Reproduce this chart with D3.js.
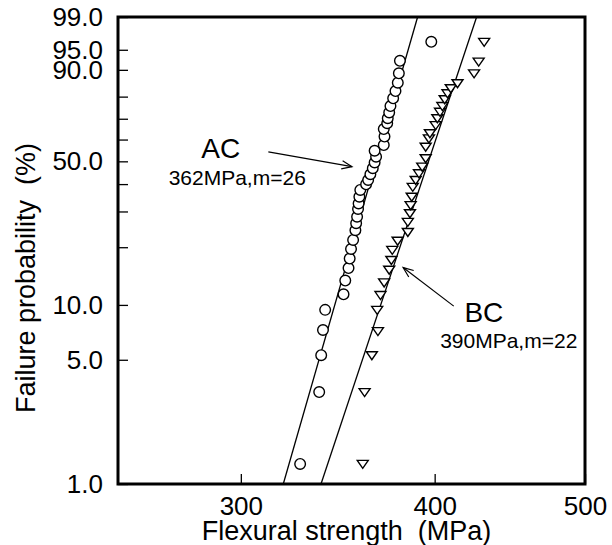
<!DOCTYPE html>
<html>
<head>
<meta charset="utf-8">
<script src="https://cdn.jsdelivr.net/npm/d3@7"></script>
<style>
  body { margin: 0; background: #fff; }
  svg text { font-family: "Liberation Sans", Arial, Helvetica, sans-serif; fill: #000; }
</style>
</head>
<body>
<svg id="chart"></svg>
<script>
const WIDTH = 612;
const HEIGHT = 545;
const MARGIN = { left: 118, top: 17, right: 27, bottom: 61 };

// AC specimens (open circles) - strength in MPa, failure probability in %
const acStrength = [327.6, 337.0, 338.0, 338.9, 340.0, 349.4, 350.3, 352.0, 352.6, 353.3,
    354.4, 355.6, 356.0, 356.5, 357.0, 357.3, 357.7, 358.2, 361.3, 362.4,
    363.6, 364.9, 365.9, 366.7, 365.9, 370.9, 371.3, 370.9, 372.8, 373.1,
    373.9, 374.6, 376.1, 377.4, 378.7, 379.3, 379.9, 398.0];
const acProb = [1.3, 3.3, 5.3, 7.3, 9.4, 11.4, 13.5, 15.7, 17.6, 19.7,
    21.9, 24.5, 26.5, 28.5, 31.0, 32.9, 35.3, 37.9, 40.1, 41.9,
    44.3, 46.9, 49.5, 52.1, 54.9, 57.6, 61.7, 65.3, 68.1, 70.5,
    73.2, 76.1, 79.5, 82.5, 85.7, 88.9, 92.5, 96.4];

// BC specimens (open down triangles)
const bcStrength = [359.5, 360.5, 364.4, 367.7, 367.3, 369.1, 371.1, 373.9, 375.1, 375.6,
    378.6, 384.4, 384.4, 385.6, 386.0, 386.6, 387.2, 388.9, 390.8, 392.7,
    394.7, 394.7, 396.6, 397.2, 400.6, 401.6, 403.2, 404.6, 406.0, 407.7,
    409.7, 413.8, 424.1, 427.0, 430.5];
const bcProb = [1.3, 3.3, 5.3, 7.2, 9.4, 11.3, 13.2, 15.4, 17.3, 19.5,
    21.7, 24.0, 26.9, 29.6, 32.3, 35.3, 39.1, 41.9, 44.7, 47.6,
    51.4, 56.8, 60.8, 63.3, 67.2, 70.5, 73.5, 76.1, 79.1, 81.6,
    83.6, 85.5, 88.9, 92.3, 96.4];

// fitted weibull lines, end points [strength, prob]
const acFit = [[319.5, 1], [390.0, 99]];
const bcFit = [[337.9, 1], [425.7, 99]];

// axis ticks
const yTicks = [1, 5, 10, 50, 90, 95, 99];
const yMinorTicks = [20, 30, 40, 60, 70, 80];
const xTicks = [300, 400, 500];

// annotations (anchor in data units)
const labels = [
    { text: "AC", s: 291.2, p: 51.5, size: 28 },
    { text: "362MPa,m=26", s: 298.4, p: 39.8, size: 21 },
    { text: "BC", s: 430.3, p: 8.1, size: 28 },
    { text: "390MPa,m=22", s: 446.5, p: 5.8, size: 21 }
];
const arrows = [
    { from: [312.5, 54.4], to: [353.8, 47.6] },
    { from: [411.5, 9.85], to: [381.7, 15.8] }
];

const innerW = WIDTH - MARGIN.left - MARGIN.right;
const innerH = HEIGHT - MARGIN.top - MARGIN.bottom;

const svg = d3.select("#chart")
    .attr("width", WIDTH)
    .attr("height", HEIGHT);

const g = svg.append("g")
    .attr("transform", `translate(${MARGIN.left},${MARGIN.top})`);

// weibull probability paper: ln(ln(1/(1-F)))
const weibit = p => Math.log(-Math.log(1 - p / 100));
const unWeibit = v => 100 * (1 - Math.exp(-Math.exp(v)));

const x = d3.scaleLog().domain([250, 500]).range([0, innerW]);
const yLin = d3.scaleLinear().domain([weibit(1), weibit(99)]).range([innerH, 0]);
const y = p => yLin(weibit(p));

// y axis, ticks pointing inside
const yAxis = d3.axisLeft(yLin)
    .tickValues(yTicks.map(weibit))
    .tickFormat(v => d3.format(".1f")(unWeibit(v)))
    .tickSize(-10)
    .tickPadding(15);

const yg = g.append("g").call(yAxis);
yg.select(".domain").remove();
yg.selectAll("text").attr("font-size", 26).attr("font-family", null);
yg.selectAll("line").attr("stroke-width", 1.3);

g.append("g").selectAll("line")
    .data(yMinorTicks)
    .enter()
    .append("line")
    .attr("x1", 0)
    .attr("x2", 10)
    .attr("y1", d => y(d))
    .attr("y2", d => y(d))
    .attr("stroke", "#000")
    .attr("stroke-width", 1.3);

// x axis
const xAxis = d3.axisBottom(x)
    .tickValues(xTicks)
    .tickFormat(d3.format("d"))
    .tickSize(-10)
    .tickPadding(13);

const xg = g.append("g")
    .attr("transform", `translate(0,${innerH})`)
    .call(xAxis);
xg.select(".domain").remove();
xg.selectAll("text").attr("font-size", 26).attr("font-family", null);
xg.selectAll("line").attr("stroke-width", 1.3);

// frame
g.append("rect")
    .attr("width", innerW)
    .attr("height", innerH)
    .attr("fill", "none")
    .attr("stroke", "#000")
    .attr("stroke-width", 3);

// axis titles
svg.append("text")
    .attr("x", MARGIN.left + innerW / 2 - 5)
    .attr("y", 540)
    .attr("text-anchor", "middle")
    .attr("font-size", 27)
    .attr("xml:space", "preserve")
    .text("Flexural strength  (MPa)");

svg.append("text")
    .attr("transform", `translate(35,${MARGIN.top + 261}) rotate(-90)`)
    .attr("text-anchor", "middle")
    .attr("font-size", 27)
    .attr("xml:space", "preserve")
    .text("Failure probability  (%)");

// fit lines
const line = d3.line().x(d => x(d[0])).y(d => y(d[1]));
[acFit, bcFit].forEach(fit => {
    g.append("path")
        .attr("d", line(fit))
        .attr("fill", "none")
        .attr("stroke", "#000")
        .attr("stroke-width", 1.3);
});

// AC circles
const acData = acStrength.map((s, i) => ({ s: s, p: acProb[i] }));
g.selectAll(".ac")
    .data(acData)
    .enter()
    .append("circle")
    .attr("class", "ac")
    .attr("cx", d => x(d.s))
    .attr("cy", d => y(d.p))
    .attr("r", 5.3)
    .attr("fill", "#fff")
    .attr("stroke", "#000")
    .attr("stroke-width", 1.4);

// BC triangles
const tri = "M-5.5,-3.5L5.5,-3.5L0,4.5Z";
const bcData = bcStrength.map((s, i) => ({ s: s, p: bcProb[i] }));
g.selectAll(".bc")
    .data(bcData)
    .enter()
    .append("path")
    .attr("class", "bc")
    .attr("d", tri)
    .attr("transform", d => `translate(${x(d.s)},${y(d.p)})`)
    .attr("fill", "#fff")
    .attr("stroke", "#000")
    .attr("stroke-width", 1.4);

// annotations
g.selectAll(".lbl")
    .data(labels)
    .enter()
    .append("text")
    .attr("class", "lbl")
    .attr("x", d => x(d.s))
    .attr("y", d => y(d.p))
    .attr("text-anchor", "middle")
    .attr("font-size", d => d.size)
    .text(d => d.text);

arrows.forEach(a => {
    const x1 = x(a.from[0]), y1 = y(a.from[1]);
    const x2 = x(a.to[0]), y2 = y(a.to[1]);
    const ang = Math.atan2(y2 - y1, x2 - x1);
    const len = 11, spread = 0.38;
    g.append("line")
        .attr("x1", x1).attr("y1", y1)
        .attr("x2", x2).attr("y2", y2)
        .attr("stroke", "#000")
        .attr("stroke-width", 1.2);
    g.append("path")
        .attr("d", `M${x2 - len * Math.cos(ang - spread)},${y2 - len * Math.sin(ang - spread)}L${x2},${y2}L${x2 - len * Math.cos(ang + spread)},${y2 - len * Math.sin(ang + spread)}`)
        .attr("fill", "none")
        .attr("stroke", "#000")
        .attr("stroke-width", 1.2);
});
</script>
</body>
</html>
